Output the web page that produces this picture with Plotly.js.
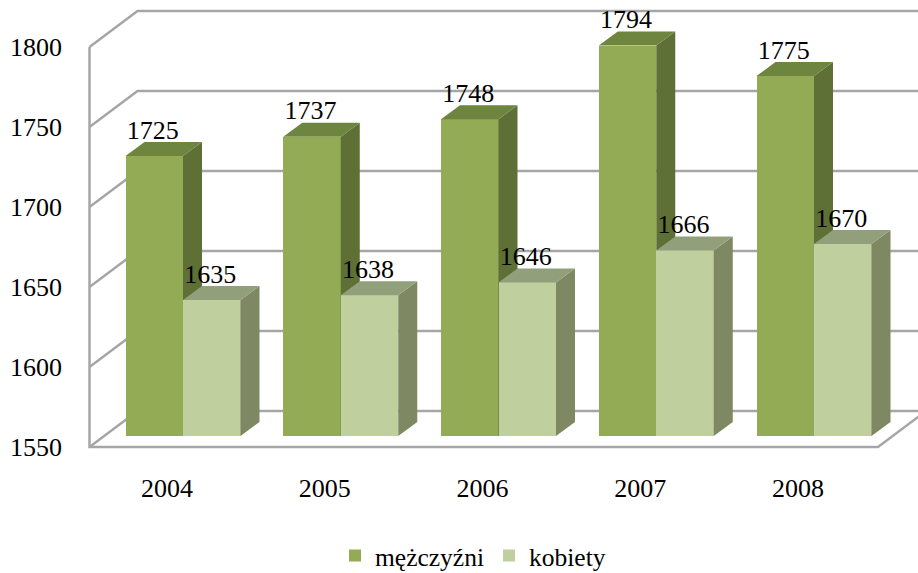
<!DOCTYPE html>
<html><head><meta charset="utf-8">
<script src="https://cdn.plot.ly/plotly-3.0.1.min.js"></script>
<style>html,body{margin:0;padding:0;background:#fff}</style></head>
<body><div id="chart" style="width:918px;height:573px"></div>
<script>
const years = ['2004','2005','2006','2007','2008'];
const men = [1725,1737,1748,1794,1775];
const women = [1635,1638,1646,1666,1670];
const yTicks = [1550,1600,1650,1700,1750,1800];
const seriesNames = ['mężczyźni','kobiety'];

// scale of the picture
const pxPerCat = 157.75, pxPerUnit = 1.6, firstCatPx = 183;
const left = 80, plotBottom = 470, W = 918, H = 573;
const catX = px => (px - firstCatPx) / pxPerCat;
const dX = px => px / pxPerCat;
const dY = px => px / pxPerUnit;
const barW = dX(57.5), depthX = dX(19), depthY = dY(14);
const floor = 1550;
const rangeFor = floorPx => [floor - (plotBottom - floorPx) / pxPerUnit, floor + floorPx / pxPerUnit];
const xRange = [catX(left), catX(W)];
const idx = years.map((_, i) => i);

function faces(vals, xOff, axis, sideColor, topColor) {
  const sx = [], sy = [], tx = [], ty = [];
  vals.forEach((v, i) => {
    const a = i + xOff, b = a + barW;
    sx.push(b, b + depthX, b + depthX, b, null);
    sy.push(floor, floor + depthY, v + depthY, v, null);
    tx.push(a, b, b + depthX, a + depthX, null);
    ty.push(v, v, v + depthY, v + depthY, null);
  });
  const common = {type:'scatter', mode:'lines', xaxis:'x', yaxis:axis, fill:'toself',
    line:{width:0}, showlegend:false, hoverinfo:'skip'};
  return [
    Object.assign({}, common, {x:sx, y:sy, fillcolor:sideColor, line:{width:0,color:sideColor}}),
    Object.assign({}, common, {x:tx, y:ty, fillcolor:topColor, line:{width:0,color:topColor}})
  ];
}

// wall grid lines: front corner, back corner, right end
const backX = dX(48), backY = dY(36);
const frontX = catX(89.5), rightX = catX(926), floorFrontRight = catX(878);
const gx = [], gy = [];
yTicks.forEach(t => {
  gx.push(frontX, frontX + backX, rightX, null);
  gy.push(t, t + backY, t + backY, null);
});
const wallColor = '#a6a6a6';
const walls = {type:'scatter', mode:'lines', x:gx, y:gy, xaxis:'x', yaxis:'y',
  line:{color:wallColor, width:2.5}, showlegend:false, hoverinfo:'skip', connectgaps:false};
const frame = {type:'scatter', mode:'lines', xaxis:'x', yaxis:'y',
  x:[frontX, frontX, floorFrontRight, floorFrontRight + backX],
  y:[yTicks[yTicks.length-1], floor, floor, floor + backY],
  line:{color:wallColor, width:2.5}, showlegend:false, hoverinfo:'skip'};

const manBar = {type:'bar', name:seriesNames[0], x:idx, y:men.map(v => v - floor), base:floor,
  width:barW, offset:-barW, xaxis:'x', yaxis:'y2', marker:{color:'#93ab55', line:{width:0}}};
const womanBar = {type:'bar', name:seriesNames[1], x:idx, y:women.map(v => v - floor), base:floor,
  width:barW, offset:0, xaxis:'x', yaxis:'y3', marker:{color:'#bfcf9e', line:{width:0}}};

const labelFont = {family:'"Liberation Serif", serif', size:26, color:'#000'};
const labelLift = dY(24), labelNudge = dX(1.5);
const labels = {type:'scatter', mode:'text', xaxis:'x', yaxis:'y3', showlegend:false, hoverinfo:'skip', cliponaxis:false,
  x: idx.map(i => i - barW/2 - labelNudge).concat(idx.map(i => i + barW/2 - labelNudge)),
  y: men.map(v => v + labelLift).concat(women.map(v => v + labelLift)),
  text: men.concat(women).map(String), textposition:'middle center', textfont:labelFont};

const data = [walls, frame, manBar]
  .concat(faces(men, -barW, 'y2', '#5e7036', '#6e8540'))
  .concat([womanBar])
  .concat(faces(women, 0, 'y3', '#7e8863', '#919f7b'))
  .concat([labels]);

const hiddenY = {visible:false, overlaying:'y', range:rangeFor(436), fixedrange:true, showgrid:false, zeroline:false};
const layout = {
  width:W, height:H, paper_bgcolor:'#fff', plot_bgcolor:'rgba(0,0,0,0)',
  margin:{l:left, r:0, t:0, b:H - plotBottom, pad:0, autoexpand:false},
  font:labelFont, showlegend:true, hovermode:false,
  xaxis:{range:xRange, showgrid:false, zeroline:false, showline:false, ticks:'',
    tickmode:'array', tickvals:idx.map(i => i - dX(16)), ticktext:years,
    tickfont:labelFont, ticklabelstandoff:0, fixedrange:true},
  yaxis:{range:rangeFor(447), showgrid:false, zeroline:false, showline:false, ticks:'',
    tickmode:'array', tickvals:yTicks, ticktext:yTicks.map(String),
    tickfont:labelFont, ticklabelstandoff:17, fixedrange:true},
  yaxis2:hiddenY, yaxis3:Object.assign({}, hiddenY),
  legend:{orientation:'h', x:(473 - left) / (W - left), xanchor:'center', y:-(556 - plotBottom) / plotBottom, yanchor:'middle',
    font:Object.assign({}, labelFont, {size:25.5}), bgcolor:'rgba(0,0,0,0)', itemwidth:30},
  bargap:0
};
Plotly.newPlot('chart', data, layout, {displayModeBar:false, staticPlot:true});
</script></body></html>
